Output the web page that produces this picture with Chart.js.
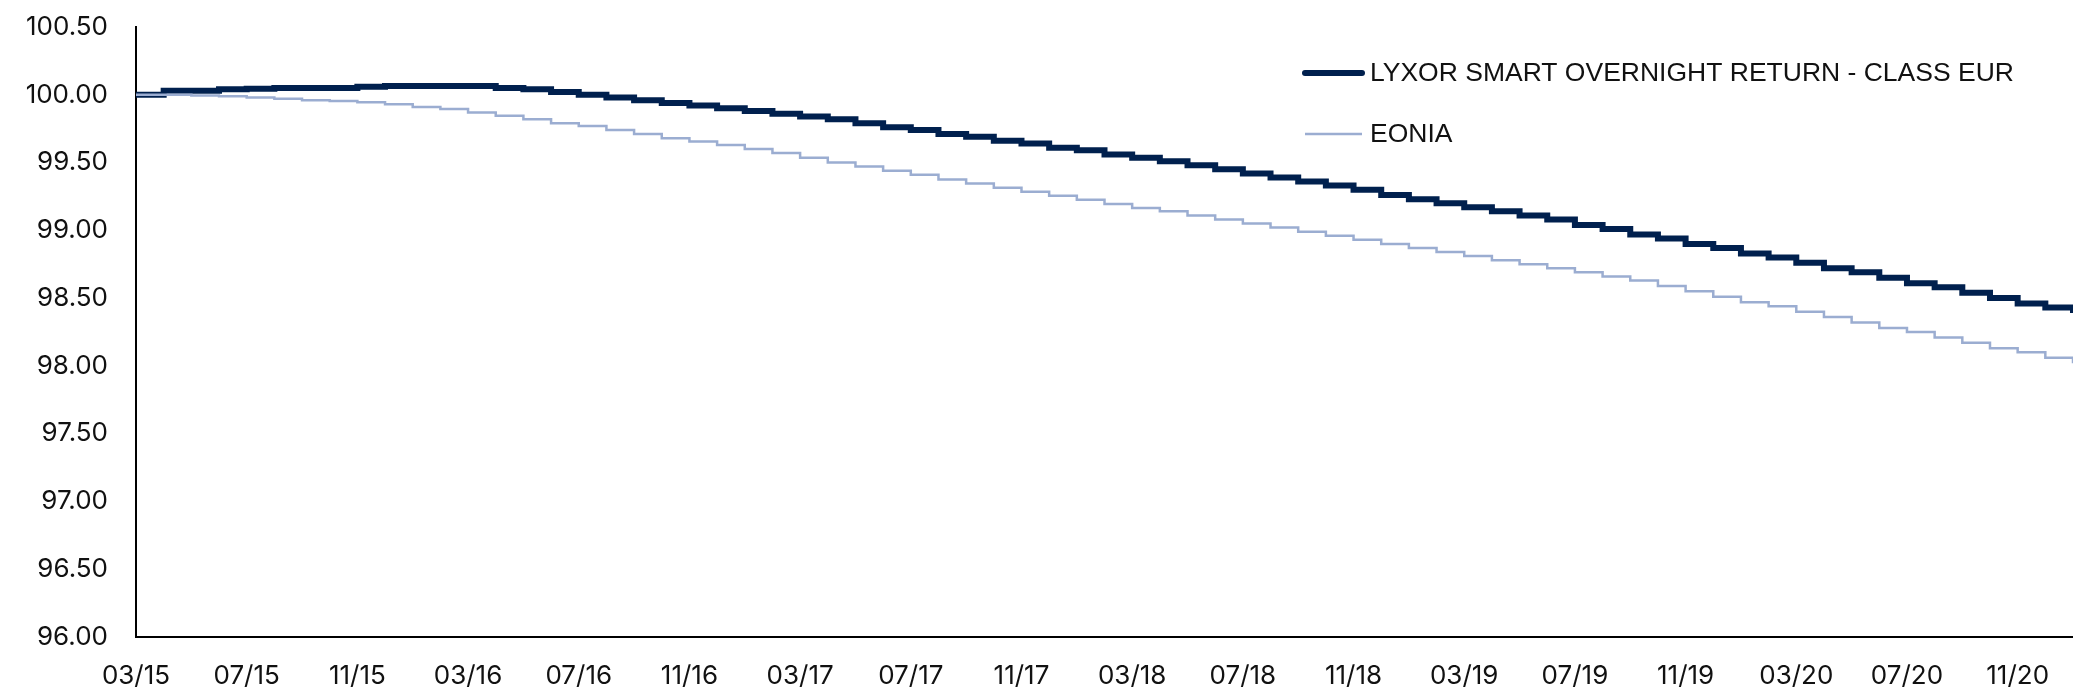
<!DOCTYPE html>
<html>
<head>
<meta charset="utf-8">
<script src="https://cdn.jsdelivr.net/npm/chart.js@4.4.0/dist/chart.umd.min.js"></script>
<style>
  html, body { margin: 0; padding: 0; background: #fff; }
  #wrap { width: 2073px; height: 697px; position: relative; }
</style>
</head>
<body>
<div id="wrap"><canvas id="navChart"></canvas></div>
<script>
// months 03/15 .. 01/21
const months = [
    '03/15','04/15','05/15','06/15','07/15','08/15','09/15','10/15','11/15','12/15',
    '01/16','02/16','03/16','04/16','05/16','06/16','07/16','08/16','09/16','10/16','11/16','12/16',
    '01/17','02/17','03/17','04/17','05/17','06/17','07/17','08/17','09/17','10/17','11/17','12/17',
    '01/18','02/18','03/18','04/18','05/18','06/18','07/18','08/18','09/18','10/18','11/18','12/18',
    '01/19','02/19','03/19','04/19','05/19','06/19','07/19','08/19','09/19','10/19','11/19','12/19',
    '01/20','02/20','03/20','04/20','05/20','06/20','07/20','08/20','09/20','10/20','11/20','12/20',
    '01/21'
];

const lyxor = [
    100.00, 100.03, 100.03, 100.04, 100.045, 100.05, 100.05, 100.05, 100.06, 100.065,
    100.065, 100.065, 100.065, 100.05, 100.04, 100.02, 100.00, 99.98, 99.96, 99.94, 99.92, 99.90,
    99.88, 99.86, 99.84, 99.82, 99.79, 99.76, 99.74, 99.71, 99.69, 99.66, 99.64, 99.61,
    99.59, 99.56, 99.535, 99.51, 99.48, 99.45, 99.42, 99.39, 99.36, 99.33, 99.30, 99.26,
    99.23, 99.20, 99.17, 99.14, 99.11, 99.08, 99.04, 99.01, 98.97, 98.94, 98.90, 98.87,
    98.83, 98.80, 98.76, 98.72, 98.69, 98.65, 98.61, 98.58, 98.54, 98.50, 98.46, 98.43,
    98.39
];

const eonia = [
    100.00, 100.00, 99.995, 99.99, 99.98, 99.97, 99.96, 99.955, 99.945, 99.93,
    99.91, 99.895, 99.87, 99.845, 99.82, 99.79, 99.77, 99.74, 99.71, 99.68, 99.655, 99.63,
    99.60, 99.57, 99.535, 99.50, 99.47, 99.44, 99.41, 99.375, 99.345, 99.315, 99.285, 99.255,
    99.225, 99.195, 99.165, 99.14, 99.11, 99.08, 99.05, 99.02, 98.99, 98.96, 98.93, 98.90,
    98.87, 98.84, 98.81, 98.78, 98.75, 98.72, 98.69, 98.66, 98.63, 98.59, 98.55, 98.51,
    98.47, 98.44, 98.40, 98.36, 98.32, 98.28, 98.25, 98.21, 98.17, 98.13, 98.10, 98.06,
    98.02
];

const seriesNames = ['LYXOR SMART OVERNIGHT RETURN - CLASS EUR', 'EONIA'];
const yTicks = [96.00, 96.50, 97.00, 97.50, 98.00, 98.50, 99.00, 99.50, 100.00, 100.50];

const TICK_FONT = 'Inter, "Liberation Sans", Arial, sans-serif';
const LEGEND_FONT = '"Liberation Sans", Arial, Helvetica, sans-serif';

// legend drawn inside the plot, top right
const insideLegend = {
    id: 'insideLegend',
    afterDraw(chart) {
        const ctx = chart.ctx;
        const x0 = 1305, x1 = 1362, tx = 1370;
        const rows = [73, 134];
        ctx.save();
        chart.data.datasets.forEach((ds, i) => {
            const y = rows[i];
            ctx.beginPath();
            ctx.lineCap = i === 0 ? 'round' : 'butt';
            ctx.strokeStyle = ds.borderColor;
            ctx.lineWidth = ds.borderWidth;
            ctx.moveTo(x0, y);
            ctx.lineTo(x1, y);
            ctx.stroke();
            ctx.fillStyle = '#111';
            ctx.font = '26.5px ' + LEGEND_FONT;
            ctx.textBaseline = 'middle';
            ctx.textAlign = 'left';
            ctx.fillText(ds.label, tx, y + 1);
        });
        ctx.restore();
    }
};

const ctx = document.getElementById('navChart').getContext('2d');
new Chart(ctx, {
    type: 'line',
    data: {
        labels: months,
        datasets: [{
            label: seriesNames[0],
            data: lyxor,
            borderColor: '#00204e',
            borderWidth: 6,
            stepped: true,
            pointRadius: 0,
            order: 2
        }, {
            label: seriesNames[1],
            data: eonia,
            borderColor: '#9badd1',
            borderWidth: 2.5,
            stepped: true,
            pointRadius: 0,
            order: 1
        }]
    },
    options: {
        responsive: true,
        maintainAspectRatio: false,
        animation: false,
        layout: { padding: { top: 27, right: 0, bottom: 0, left: 0 } },
        plugins: {
            legend: { display: false },
            tooltip: { enabled: false }
        },
        scales: {
            x: {
                offset: false,
                grid: { display: false, drawTicks: false },
                border: { display: true, color: '#000', width: 2 },
                ticks: {
                    autoSkip: false,
                    maxRotation: 0,
                    padding: 24,
                    color: '#111',
                    font: { family: TICK_FONT, size: 26 },
                    callback: function (val, i) { return i % 4 === 0 ? this.getLabelForValue(val) : ''; }
                },
                afterFit(scale) {
                    scale.height = 60;
                    scale.paddingRight = 0;
                }
            },
            y: {
                min: yTicks[0],
                max: yTicks[yTicks.length - 1],
                afterBuildTicks(scale) { scale.ticks = yTicks.map(v => ({ value: v })); },
                grid: { display: false, drawTicks: false },
                border: { display: true, color: '#000', width: 2 },
                ticks: {
                    padding: 28,
                    color: '#111',
                    font: { family: TICK_FONT, size: 26 },
                    callback: v => Number(v).toFixed(2)
                },
                afterFit(scale) {
                    scale.width = 136;
                    scale.paddingTop = 0;
                    scale.paddingBottom = 0;
                }
            }
        }
    },
    plugins: [insideLegend]
});
</script>
</body>
</html>
